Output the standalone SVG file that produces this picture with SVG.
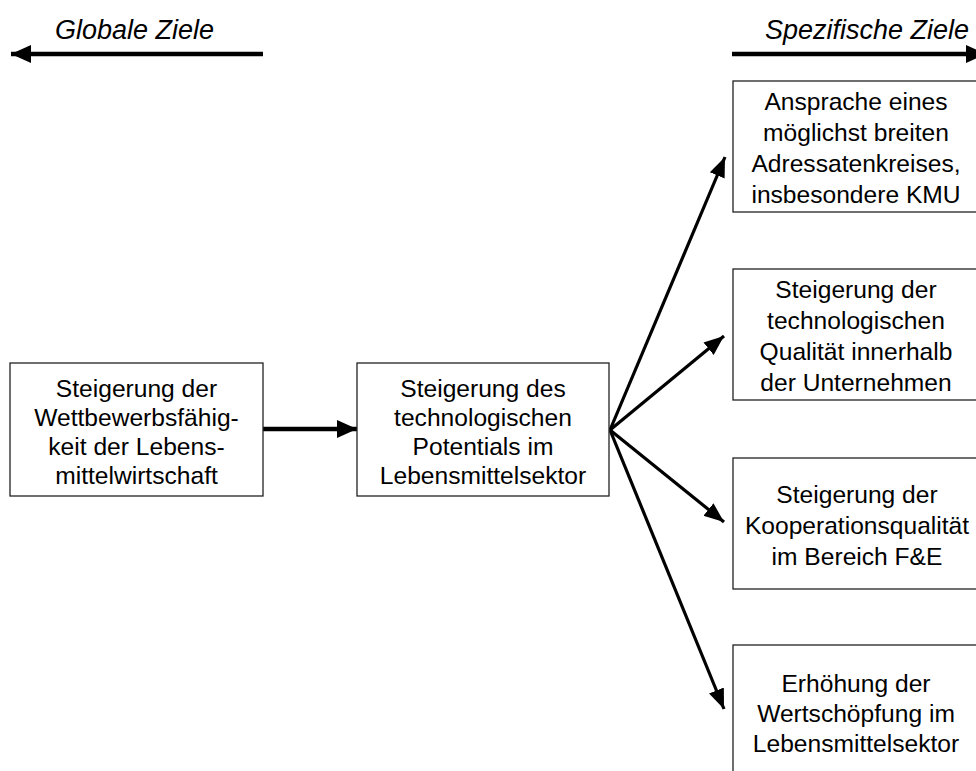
<svg xmlns="http://www.w3.org/2000/svg" width="976" height="771" viewBox="0 0 976 771">
<style>
  .box { fill: #fff; stroke: #222; stroke-width: 1.3; }
  .t { font-family: "Liberation Sans", Arial, sans-serif; font-size: 24.6px; fill: #000; text-anchor: middle; }
  .title { font-family: "Liberation Sans", Arial, sans-serif; font-size: 27px; font-style: italic; fill: #000; }
  .thick { stroke: #000; stroke-width: 4.5; fill: none; }
  .fan { stroke: #000; stroke-width: 3.2; fill: none; }
</style>
<defs>
  <marker id="headBig" markerUnits="userSpaceOnUse" markerWidth="22" markerHeight="22" viewBox="0 0 22 22" refX="20" refY="11" orient="auto">
    <path d="M0,2 L20,11 L0,20 Z" fill="#000"/>
  </marker>
  <marker id="headFan" markerUnits="userSpaceOnUse" markerWidth="22" markerHeight="20" viewBox="0 0 22 20" refX="20" refY="10" orient="auto">
    <path d="M0,2 L20,10 L0,18 Z" fill="#000"/>
  </marker>
</defs>

<g id="titles">
  <text class="title" x="55" y="39">Globale Ziele</text>
  <text class="title" x="765" y="39">Spezifische Ziele</text>
</g>

<g id="connectors">
  <line class="thick" x1="263" y1="54" x2="11" y2="54" marker-end="url(#headBig)"/>
  <line class="thick" x1="732" y1="54" x2="986" y2="54" marker-end="url(#headBig)"/>
  <line class="thick" x1="263" y1="429" x2="357" y2="429" marker-end="url(#headBig)"/>
  <line class="fan" x1="610" y1="430" x2="725" y2="157" marker-end="url(#headFan)"/>
  <line class="fan" x1="610" y1="430" x2="724" y2="336" marker-end="url(#headFan)"/>
  <line class="fan" x1="610" y1="430" x2="724" y2="522" marker-end="url(#headFan)"/>
  <line class="fan" x1="610" y1="430" x2="724" y2="709" marker-end="url(#headFan)"/>
</g>

<g id="node-global">
  <rect class="box" x="10" y="363" width="253" height="133"/>
  <text class="t" x="136.5" y="397">Steigerung der</text>
  <text class="t" x="136.5" y="426">Wettbewerbsfähig-</text>
  <text class="t" x="136.5" y="455">keit der Lebens-</text>
  <text class="t" x="136.5" y="484">mittelwirtschaft</text>
</g>

<g id="node-potential">
  <rect class="box" x="357" y="363" width="252" height="133"/>
  <text class="t" x="483" y="397">Steigerung des</text>
  <text class="t" x="483" y="426">technologischen</text>
  <text class="t" x="483" y="455">Potentials im</text>
  <text class="t" x="483" y="484">Lebensmittelsektor</text>
</g>

<g id="node-ansprache">
  <rect class="box" x="733" y="81" width="250" height="131"/>
  <text class="t" x="856" y="110">Ansprache eines</text>
  <text class="t" x="856" y="141">möglichst breiten</text>
  <text class="t" x="856" y="172">Adressatenkreises,</text>
  <text class="t" x="856" y="203">insbesondere KMU</text>
</g>

<g id="node-qualitaet">
  <rect class="box" x="733" y="269" width="250" height="131"/>
  <text class="t" x="856" y="298">Steigerung der</text>
  <text class="t" x="856" y="329">technologischen</text>
  <text class="t" x="856" y="360">Qualität innerhalb</text>
  <text class="t" x="856" y="391">der Unternehmen</text>
</g>

<g id="node-kooperation">
  <rect class="box" x="733" y="458" width="250" height="131"/>
  <text class="t" x="857" y="503">Steigerung der</text>
  <text class="t" x="857" y="534">Kooperationsqualität</text>
  <text class="t" x="857" y="565">im Bereich F&amp;E</text>
</g>

<g id="node-wertschoepfung">
  <rect class="box" x="733" y="645" width="250" height="140"/>
  <text class="t" x="856" y="692">Erhöhung der</text>
  <text class="t" x="856" y="722">Wertschöpfung im</text>
  <text class="t" x="856" y="752">Lebensmittelsektor</text>
</g>
</svg>
